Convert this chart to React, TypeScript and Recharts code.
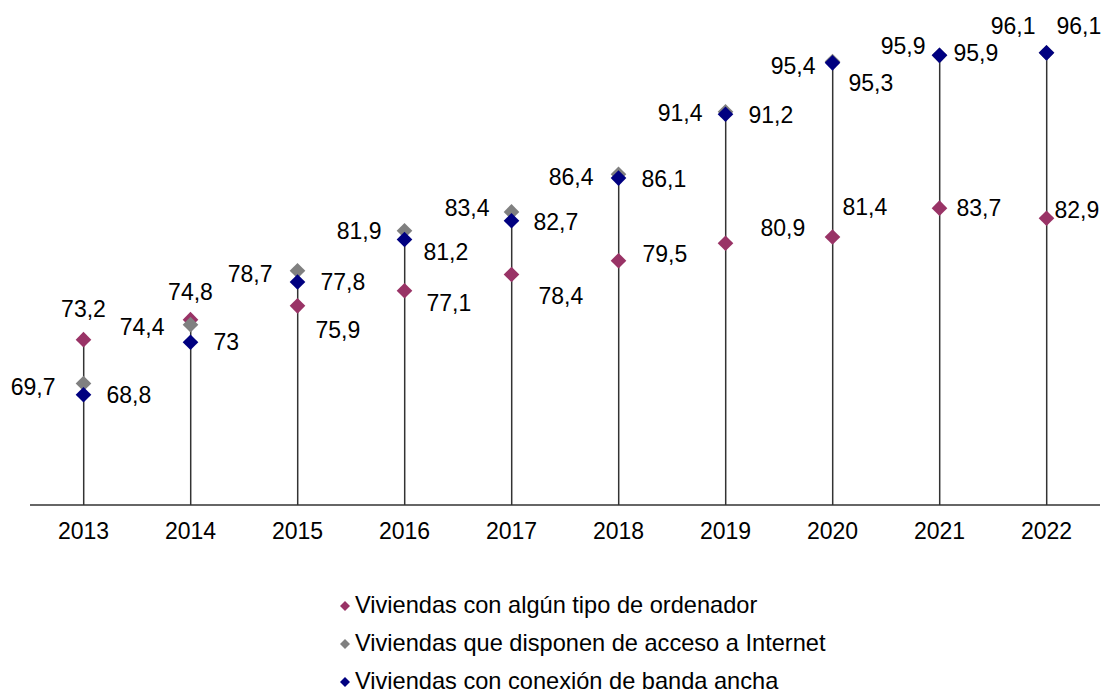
import React from "react";
import { ComposedChart, Bar, Line, XAxis, YAxis, LabelList } from "recharts";

// Hogares: equipamiento TIC (%)
const years = ["2013", "2014", "2015", "2016", "2017", "2018", "2019", "2020", "2021", "2022"];
const ordenador = [73.2, 74.8, 75.9, 77.1, 78.4, 79.5, 80.9, 81.4, 83.7, 82.9];
const internet = [69.7, 74.4, 78.7, 81.9, 83.4, 86.4, 91.4, 95.4, 95.9, 96.1];
const bandaAncha = [68.8, 73.0, 77.8, 81.2, 82.7, 86.1, 91.2, 95.3, 95.9, 96.1];

// where each value label sits relative to its marker: [anchor, dx, dy]
type Placement = ["start" | "middle" | "end", number, number];
const ordenadorPlacement: Placement[] = [
  ["middle", 0, -31], ["middle", 0, -28], ["start", 18, 24], ["start", 22, 12], ["start", 27, 21],
  ["start", 24, -7], ["start", 35, -15], ["start", 10, -30], ["start", 17, 0], ["start", 8, -8],
];
const internetPlacement: Placement[] = [
  ["end", -28, 3], ["end", -26, 2], ["end", -25, 3], ["end", -23, 0], ["end", -22, -4],
  ["end", -25, 3], ["end", -23, 1], ["end", -17, 4], ["end", -14, -9], ["end", -11, -27],
];
const bandaPlacement: Placement[] = [
  ["start", 23, 0], ["start", 23, 0], ["start", 23, 0], ["start", 19, 13], ["start", 22, 1],
  ["start", 23, 1], ["start", 23, 1], ["start", 16, 20], ["start", 14, -2], ["start", 10, -27],
];

const series = [
  { key: "ordenador", name: "Viviendas con algún tipo de ordenador", color: "#993366", placement: ordenadorPlacement },
  { key: "internet", name: "Viviendas que disponen de acceso a Internet", color: "#808080", placement: internetPlacement },
  { key: "bandaAncha", name: "Viviendas con conexión de banda ancha", color: "#000080", placement: bandaPlacement },
];

const data = years.map((year, i) => ({
  year,
  ordenador: ordenador[i],
  internet: internet[i],
  bandaAncha: bandaAncha[i],
  top: Math.max(ordenador[i], internet[i], bandaAncha[i]),
}));

const FONT = "'Liberation Sans', Arial, sans-serif";

const diamondPath = (cx: number, cy: number, r: number) =>
  `M${cx},${cy - r}L${cx + r},${cy}L${cx},${cy + r}L${cx - r},${cy}Z`;

const diamondDot = (color: string) => (props: any) => {
  const { cx, cy, index } = props;
  if (cx == null || cy == null) return <g key={index} />;
  return <path key={index} d={diamondPath(cx, cy, 7.8)} fill={color} />;
};

// thin vertical line from the axis up to the highest marker of the year
const DropLine = (props: any) => {
  const { x, y, width, height } = props;
  const cx = x + width / 2;
  return <line x1={cx} x2={cx} y1={y} y2={y + height} stroke="#333" strokeWidth={1.5} />;
};

const fmt = (v: number) => String(v).replace(".", ",");

const valueLabel = (placement: Placement[]) => (props: any) => {
  const { index, value } = props;
  const x = props.x ?? props.viewBox?.x;
  const y = props.y ?? props.viewBox?.y;
  if (x == null || y == null) return null;
  const [anchor, dx, dy] = placement[index];
  return (
    <text
      key={index}
      x={x + dx}
      y={y + dy}
      textAnchor={anchor}
      dominantBaseline="central"
      fontSize={23}
      fontFamily={FONT}
      fill="#000"
    >
      {fmt(value)}
    </text>
  );
};

export default function App() {
  return (
    <div style={{ position: "absolute", left: 0, top: 0, width: 1102, height: 693, background: "#fff", fontFamily: FONT }}>
      <ComposedChart width={1102} height={693} data={data} margin={{ top: 4, right: 2, bottom: 148, left: 30 }}>
        <XAxis
          dataKey="year"
          height={40}
          tickLine={false}
          tickSize={0}
          tickMargin={18}
          axisLine={{ stroke: "#333", strokeWidth: 1.5 }}
          tick={{ fontSize: 23, fontFamily: FONT, fill: "#000" }}
          interval={0}
        />
        <YAxis hide domain={[60, 100]} />
        <Bar dataKey="top" shape={DropLine} isAnimationActive={false} />
        {series.map((s) => (
          <Line
            key={s.key}
            dataKey={s.key}
            name={s.name}
            stroke="none"
            dot={diamondDot(s.color)}
            activeDot={false}
            isAnimationActive={false}
          >
            <LabelList dataKey={s.key} content={valueLabel(s.placement)} />
          </Line>
        ))}
      </ComposedChart>
      <div style={{ position: "absolute", left: 340, top: 587 }}>
        {series.map((s) => (
          <div
            key={s.key}
            style={{ display: "flex", alignItems: "center", height: 38, fontSize: 23.6, lineHeight: 1, color: "#000" }}
          >
            <svg width={10} height={10} style={{ marginRight: 5 }}>
              <path d={diamondPath(5, 5, 5)} fill={s.color} />
            </svg>
            <span>{s.name}</span>
          </div>
        ))}
      </div>
    </div>
  );
}
